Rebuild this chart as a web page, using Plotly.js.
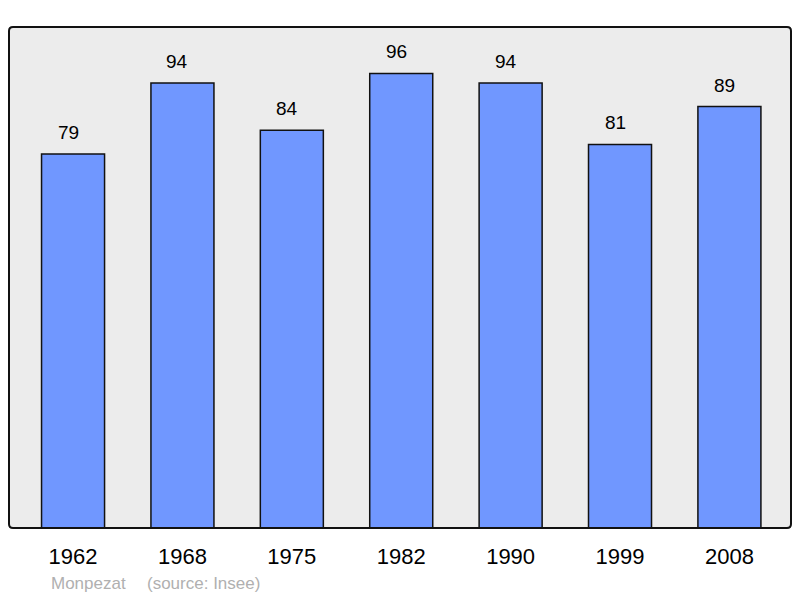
<!DOCTYPE html>
<html>
<head>
<meta charset="utf-8">
<script src="https://cdn.plot.ly/plotly-3.0.1.min.js"></script>
<style>
  html, body { margin: 0; padding: 0; background: #fff; }
  #chart { width: 800px; height: 598px; }
</style>
</head>
<body>
<div id="chart"></div>
<script>
// population by census year
const years = ['1962', '1968', '1975', '1982', '1990', '1999', '2008'];
const population = [79, 94, 84, 96, 94, 81, 89];
const commune = 'Monpezat';
const source = '(source: Insee)';

const idx = years.map((_, i) => i);

const bars = {
  type: 'bar',
  x: idx,
  y: population,
  width: 0.576,
  marker: { color: '#7097ff', line: { color: '#111', width: 1.5 } },
  hoverinfo: 'skip'
};

const labels = idx.map(i => ({
  x: i,
  y: population[i],
  text: String(population[i]),
  showarrow: false,
  yanchor: 'bottom',
  yshift: 9,
  xshift: -5,
  font: { size: 19, color: '#000' }
}));

// frame with slightly rounded corners, in paper units
const rx = 4 / 782, ry = 4 / 501;
const framePath =
  `M ${rx},0 L ${1 - rx},0 Q 1,0 1,${ry} L 1,${1 - ry} Q 1,1 ${1 - rx},1 ` +
  `L ${rx},1 Q 0,1 0,${1 - ry} L 0,${ry} Q 0,0 ${rx},0 Z`;

const layout = {
  width: 800,
  height: 598,
  margin: { l: 9, r: 9, t: 27, b: 70 },
  paper_bgcolor: '#fff',
  plot_bgcolor: '#ececec',
  font: { family: 'Liberation Sans, Arial, sans-serif', color: '#000' },
  showlegend: false,
  bargap: 0,
  xaxis: {
    range: [-0.5855, 6.563],
    tickvals: idx,
    ticktext: years,
    tickfont: { size: 22, color: '#000' },
    ticks: '',
    ticklabelstandoff: 13,
    showgrid: false,
    zeroline: false,
    showline: false,
    fixedrange: true
  },
  yaxis: {
    range: [0, 105.8],
    showticklabels: false,
    showgrid: false,
    zeroline: false,
    ticks: '',
    fixedrange: true
  },
  shapes: [{
    type: 'path',
    xref: 'paper', yref: 'paper',
    path: framePath,
    line: { color: '#111', width: 2 },
    layer: 'above'
  }],
  annotations: labels.concat([
    {
      xref: 'paper', yref: 'paper',
      x: (49 - 9) / 782, y: -0.11,
      xanchor: 'left', yanchor: 'middle',
      text: commune, showarrow: false,
      font: { size: 17, color: '#b0b0b0' }
    },
    {
      xref: 'paper', yref: 'paper',
      x: (145 - 9) / 782, y: -0.11,
      xanchor: 'left', yanchor: 'middle',
      text: source, showarrow: false,
      font: { size: 17, color: '#b0b0b0' }
    }
  ])
};

Plotly.newPlot('chart', [bars], layout, { displayModeBar: false, staticPlot: true });
</script>
</body>
</html>
